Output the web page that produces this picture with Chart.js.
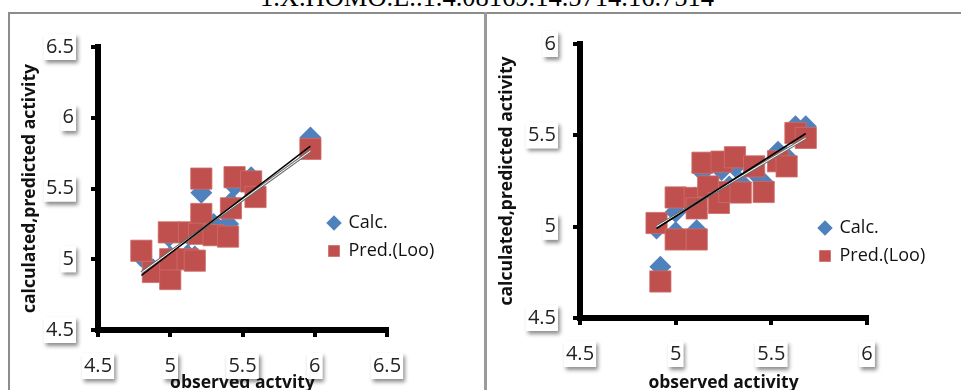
<!DOCTYPE html>
<html>
<head>
<meta charset="utf-8">
<script src="https://cdn.jsdelivr.net/npm/chart.js@4.4.0/dist/chart.umd.min.js"></script>
<style>
  html, body { margin: 0; padding: 0; background: #fff; }
  body { width: 961px; height: 390px; overflow: hidden; position: relative; }
  .title { position: absolute; left: 0; top: -16px; width: 974px; text-align: center;
           font: 26.5px/26px "Liberation Serif", "DejaVu Serif", serif; color: #000; white-space: nowrap; }
  .rule { position: absolute; background: #8c8c8c; }
  .panel { position: absolute; top: 15px; height: 380px; }
</style>
</head>
<body>
<div class="title">1.X.HOMO.L..1.4.08169.14.5714.16.7514</div>
<div class="rule" style="left:8px;top:12px;width:953px;height:2px"></div>
<div class="rule" style="left:8px;top:12px;width:2px;height:378px"></div>
<div class="rule" style="left:484px;top:12px;width:3px;height:378px;background:#9a9a9a"></div>
<div class="panel" style="left:10px;width:475px"><canvas id="left"></canvas></div>
<div class="panel" style="left:487px;width:474px"><canvas id="right"></canvas></div>
<script>
// left panel
const obsL  = [4.80, 4.88, 5.00, 5.00, 4.99, 5.13, 5.12, 5.17, 5.215, 5.215, 5.20, 5.30, 5.40, 5.42, 5.445, 5.56, 5.59, 5.97];
const calcL = [5.02, 4.93, 4.92, 5.02, 5.16, 5.17, 5.03, 5.02, 5.47, 5.30, 5.20, 5.25, 5.25, 5.40, 5.52, 5.58, 5.48, 5.86];
const predL = [5.06, 4.91, 4.86, 5.00, 5.19, 5.19, 5.00, 4.99, 5.57, 5.32, 5.18, 5.17, 5.16, 5.36, 5.58, 5.55, 5.44, 5.78];
const trendXL = [4.80, 5.97];
const trendCalcL = [4.885, 5.80];
const trendPredL = [4.905, 5.765];

// right panel
const obsR  = [4.90, 4.92, 5.00, 5.00, 5.11, 5.10, 5.11, 5.14, 5.17, 5.226, 5.24, 5.28, 5.31, 5.34, 5.41, 5.46, 5.535, 5.58, 5.626, 5.68];
const calcR = [4.99, 4.78, 5.08, 4.97, 4.98, 5.16, 5.10, 5.30, 5.22, 5.15, 5.31, 5.22, 5.33, 5.24, 5.30, 5.24, 5.41, 5.38, 5.55, 5.55];
const predR = [5.02, 4.70, 5.16, 4.93, 4.93, 5.157, 5.10, 5.35, 5.22, 5.13, 5.356, 5.19, 5.38, 5.187, 5.33, 5.19, 5.358, 5.33, 5.513, 5.486];
const trendXR = [4.90, 5.68];
const trendCalcR = [4.99, 5.51];
const trendPredR = [5.00, 5.485];

const seriesNames = ['Calc.', 'Pred.(Loo)'];
const xTitleL = 'observed actvity';
const xTitleR = 'observed activity';
const yTitle = 'calculated,predicted activity';

const BLUE = '#4F81BD';
const RED = '#C0504D';

const pts = (xs, ys) => xs.map((x, i) => ({ x: x, y: ys[i] }));

// grey drop shadow behind the tick label boxes
const labelShadow = {
  id: 'labelShadow',
  beforeDraw(chart) {
    const ctx = chart.ctx;
    ['x', 'y'].forEach(id => {
      const scale = chart.scales[id];
      scale.getLabelItems().forEach(it => {
        const o = it.options || it;
        const b = o.backdrop;
        if (!b) return;
        ctx.save();
        ctx.shadowColor = 'rgba(0,0,0,0.45)';
        ctx.shadowBlur = 4;
        ctx.shadowOffsetX = 2;
        ctx.shadowOffsetY = 3;
        ctx.fillStyle = '#fff';
        ctx.fillRect(o.translation[0] + b.left, o.translation[1] + b.top, b.width, b.height);
        ctx.restore();
      });
    });
  }
};

// put the legend where it sits in the picture
const legendAt = {
  id: 'legendAt',
  afterLayout(chart, args, opts) {
    const lg = chart.legend;
    if (!lg) return;
    const w = lg.width, h = lg.height;
    lg.left = opts.x; lg.top = opts.y;
    lg.right = opts.x + w; lg.bottom = opts.y + h;
  }
};

function axis(min, max, title, isX, size) {
  return {
    type: 'linear',
    min: min,
    max: max,
    afterFit: s => { if (isX) s.height = size; else s.width = size; },
    border: { display: true, color: '#000', width: 6 },
    grid: { drawOnChartArea: false, color: '#000', lineWidth: 4, tickLength: 7, tickWidth: 4 },
    ticks: {
      stepSize: 0.5,
      color: '#222',
      padding: 17,
      callback: v => String(+v.toFixed(1)),
      font: { family: 'Open Sans', size: 20 },
      showLabelBackdrop: true,
      backdropColor: '#fff',
      backdropPadding: { top: 1, bottom: 1, left: 2, right: 2 }
    },
    title: {
      display: true,
      text: title,
      color: '#111',
      font: { family: 'Open Sans', size: 17.5, weight: 'bold' },
      padding: isX ? { top: 0, bottom: 1 } : { top: 2, bottom: 0 }
    }
  };
}

function makeChart(id, obs, calc, pred, tx, tCalc, tPred, o) {
  new Chart(document.getElementById(id), {
    type: 'scatter',
    data: {
      datasets: [
        { label: seriesNames[0], data: pts(obs, calc), pointStyle: 'rectRot', pointRadius: 11,
          backgroundColor: BLUE, borderColor: BLUE, borderWidth: 0, order: 4 },
        { label: seriesNames[1], data: pts(obs, pred), pointStyle: 'rect', pointRadius: 15,
          backgroundColor: RED, borderColor: 'rgba(205,110,107,0.8)', borderWidth: 1, order: 3 },
        { label: 'trendPredOuter', data: pts(tx, tPred), showLine: true, pointRadius: 0,
          borderColor: '#6f6f6f', borderWidth: 3, order: 2 },
        { label: 'trendPredInner', data: pts(tx, tPred), showLine: true, pointRadius: 0,
          borderColor: '#ffffff', borderWidth: 1, order: 1 },
        { label: 'trendCalc', data: pts(tx, tCalc), showLine: true, pointRadius: 0,
          borderColor: '#000', borderWidth: 1.5, order: 0 }
      ]
    },
    options: {
      responsive: true,
      maintainAspectRatio: false,
      animation: false,
      layout: { padding: o.padding },
      scales: {
        x: axis(4.5, o.max, o.xTitle, true, o.xh),
        y: axis(4.5, o.max, yTitle, false, o.yw)
      },
      plugins: {
        tooltip: { enabled: false },
        legend: {
          position: 'chartArea',
          align: 'start',
          labels: {
            usePointStyle: true,
            boxWidth: 11,
            boxHeight: 11,
            padding: 10,
            color: '#111',
            font: { family: 'Open Sans', size: 18 },
            filter: item => item.datasetIndex < 2,
            sort: (a, b) => a.datasetIndex - b.datasetIndex
          }
        },
        legendAt: o.legend
      }
    },
    plugins: [labelShadow, legendAt]
  });
}

makeChart('left', obsL, calcL, predL, trendXL, trendCalcL, trendPredL, {
  max: 6.5, xTitle: xTitleL, xh: 65, yw: 80,
  padding: { left: 8, top: 32, right: 98, bottom: 0 },
  legend: { x: 308.5, y: 189 }
});

makeChart('right', obsR, calcR, predR, trendXR, trendCalcR, trendPredR, {
  max: 6, xTitle: xTitleR, xh: 77, yw: 85,
  padding: { left: 8, top: 22, right: 94, bottom: 0 },
  legend: { x: 322.5, y: 194 }
});
</script>
</body>
</html>
